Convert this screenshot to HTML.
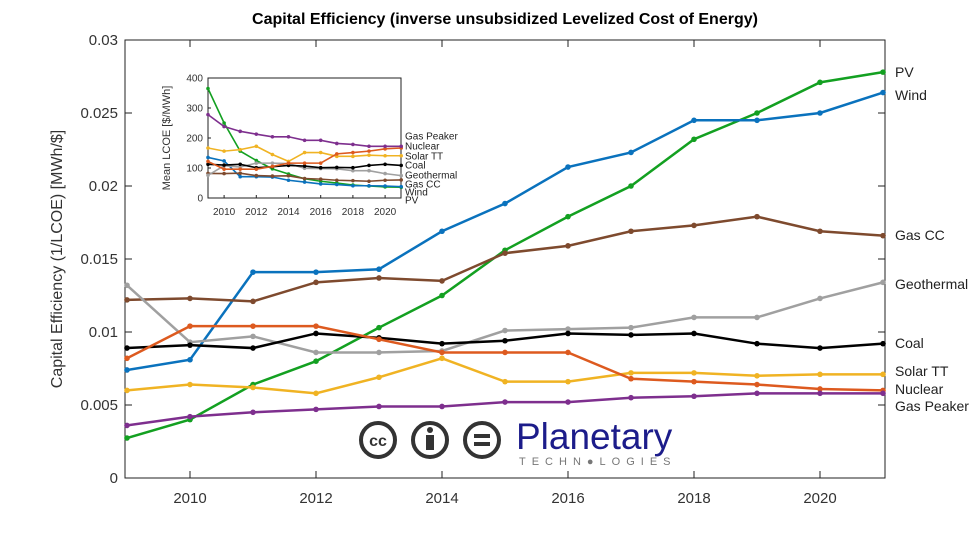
<!DOCTYPE html>
<html><head><meta charset="utf-8"><style>
body{margin:0;background:#fff;width:979px;height:538px;overflow:hidden}
svg{font-family:"Liberation Sans",Arial,sans-serif}
</style></head><body>
<svg id="c" width="979" height="538"></svg>
<script>
const years=[2009,2010,2011,2012,2013,2014,2015,2016,2017,2018,2019,2020,2021];
const seriesNames=["PV","Wind","Gas CC","Geothermal","Coal","Solar TT","Nuclear","Gas Peaker"];
const pv=[0.00274,0.0040,0.0064,0.0080,0.0103,0.0125,0.0156,0.0179,0.0200,0.0232,0.0250,0.0271,0.0278];
const wind=[0.0074,0.0081,0.0141,0.0141,0.0143,0.0169,0.0188,0.0213,0.0223,0.0245,0.0245,0.0250,0.0264];
const gasCC=[0.0122,0.0123,0.0121,0.0134,0.0137,0.0135,0.0154,0.0159,0.0169,0.0173,0.0179,0.0169,0.0166];
const geothermal=[0.0132,0.0093,0.0097,0.0086,0.0086,0.0087,0.0101,0.0102,0.0103,0.0110,0.0110,0.0123,0.0134];
const coal=[0.0089,0.0091,0.0089,0.0099,0.0096,0.0092,0.0094,0.0099,0.0098,0.0099,0.0092,0.0089,0.0092];
const solarTT=[0.0060,0.0064,0.0062,0.0058,0.0069,0.0082,0.0066,0.0066,0.0072,0.0072,0.0070,0.0071,0.0071];
const nuclear=[0.0082,0.0104,0.0104,0.0104,0.0095,0.0086,0.0086,0.0086,0.0068,0.0066,0.0064,0.0061,0.0060];
const gasPeaker=[0.0036,0.0042,0.0045,0.0047,0.0049,0.0049,0.0052,0.0052,0.0055,0.0056,0.0058,0.0058,0.0058];
const yTicks=[0,0.005,0.01,0.015,0.02,0.025,0.03];
const yTickLabels=["0","0.005","0.01","0.015","0.02","0.025","0.03"];
const xTicks=[2010,2012,2014,2016,2018,2020];
const insetYTicks=[0,100,200,300,400];
const labelY=[72,95,235,284,343,371,389,406];
const insetLabelY=[136,146,156,165,175,184,192,200];

const colors=["#13a021","#0a72bd","#7e4a2e","#a0a0a0","#000000","#f0b323","#dd5a1f","#7e2f8e"];
const data=[pv,wind,gasCC,geothermal,coal,solarTT,nuclear,gasPeaker];
const svg=document.getElementById('c');const NS="http://www.w3.org/2000/svg";
function mk(t,a,p){const e=document.createElementNS(NS,t);for(const k in a)e.setAttribute(k,a[k]);(p||svg).appendChild(e);return e;}
const X=y=>127+(y-2009)*63;const Y=v=>478-v/0.005*73;
const L=125,R=885,T=40,B=478;
let t=mk('text',{x:505,y:24,'text-anchor':'middle','font-size':16,'font-weight':'bold'});t.textContent="Capital Efficiency (inverse unsubsidized Levelized Cost of Energy)";

t=mk('text',{x:62,y:259,'text-anchor':'middle','font-size':16,fill:'#333',transform:'rotate(-90 62 259)'});t.textContent="Capital Efficiency (1/LCOE) [MWh/$]";

let f=mk('rect',{x:L,y:T,width:R-L,height:B-T,fill:'none',stroke:'#222','stroke-width':1});

yTicks.forEach((v,i)=>{mk('line',{x1:L,x2:L+7,y1:Y(v),y2:Y(v),stroke:'#222'});mk('line',{x1:R,x2:R-7,y1:Y(v),y2:Y(v),stroke:'#222'});
const e=mk('text',{x:118,y:Y(v)+5,'text-anchor':'end','font-size':15,fill:'#333'});e.textContent=yTickLabels[i];
});
xTicks.forEach(v=>{mk('line',{x1:X(v),x2:X(v),y1:B,y2:B-7,stroke:'#222'});mk('line',{x1:X(v),x2:X(v),y1:T,y2:T+7,stroke:'#222'});
const e=mk('text',{x:X(v),y:503,'text-anchor':'middle','font-size':15,fill:'#333'});e.textContent=v;
});
// logo
const g=mk('g',{});
[378,430,482].forEach(cx=>mk('circle',{cx:cx,cy:440,r:17,fill:'#fff',stroke:'#333','stroke-width':4},g));
t=mk('text',{x:378,y:446,'text-anchor':'middle','font-size':16,'font-weight':'bold',fill:'#333'},g);t.textContent="cc";
mk('circle',{cx:430,cy:430,r:3,fill:'#333'},g);mk('rect',{x:426,y:435,width:8,height:15,fill:'#333'},g);
mk('rect',{x:474,y:434,width:16,height:4,fill:'#333'},g);mk('rect',{x:474,y:442,width:16,height:4,fill:'#333'},g);
t=mk('text',{x:516,y:449,'font-size':37,fill:'#1c1c8a'},g);t.textContent="Planetary";
t=mk('text',{x:519,y:465,'font-size':11,fill:'#777','letter-spacing':'6'},g);t.textContent="TECHN●LOGIES";
// series
data.forEach((s,i)=>{const gg=mk('g',{});
mk('polyline',{points:s.map((v,j)=>X(years[j])+','+Y(v)).join(' '),fill:'none',stroke:colors[i],'stroke-width':2.5},gg);
s.forEach((v,j)=>mk('circle',{cx:X(years[j]),cy:Y(v),r:2.8,fill:colors[i]},gg));
const e=mk('text',{x:895,y:labelY[i]+5,'font-size':14,fill:'#222'});e.textContent=seriesNames[i];
});
// inset
const IX=y=>208+(y-2009)*16.1;const IY=v=>198-v*0.3;
const ig=mk('g',{});
mk('rect',{x:208,y:78,width:193,height:120,fill:'#fff',stroke:'#222'},ig);
insetYTicks.forEach(v=>{mk('line',{x1:208,x2:211,y1:IY(v),y2:IY(v),stroke:'#222'},ig);
const e=mk('text',{x:203,y:IY(v)+3.5,'text-anchor':'end','font-size':10,fill:'#333'},ig);e.textContent=v;});
xTicks.forEach(v=>{mk('line',{x1:IX(v),x2:IX(v),y1:198,y2:195,stroke:'#222'},ig);
const e=mk('text',{x:IX(v),y:215,'text-anchor':'middle','font-size':10,fill:'#333'},ig);e.textContent=v;});
t=mk('text',{x:170,y:138,'text-anchor':'middle','font-size':11,fill:'#333',transform:'rotate(-90 170 138)'},ig);t.textContent="Mean LCOE [$/MWh]";
const order=[7,6,5,4,3,2,1,0];
data.forEach((s,i)=>{mk('polyline',{points:s.map((v,j)=>IX(years[j])+','+IY(1/v)).join(' '),fill:'none',stroke:colors[i],'stroke-width':1.6},ig);
s.forEach((v,j)=>mk('circle',{cx:IX(years[j]),cy:IY(1/v),r:1.8,fill:colors[i]},ig));});
order.forEach((i,k)=>{const e=mk('text',{x:405,y:insetLabelY[k]+3.5,'font-size':10,fill:'#222'},ig);e.textContent=seriesNames[i];});
</script>
</body></html>
